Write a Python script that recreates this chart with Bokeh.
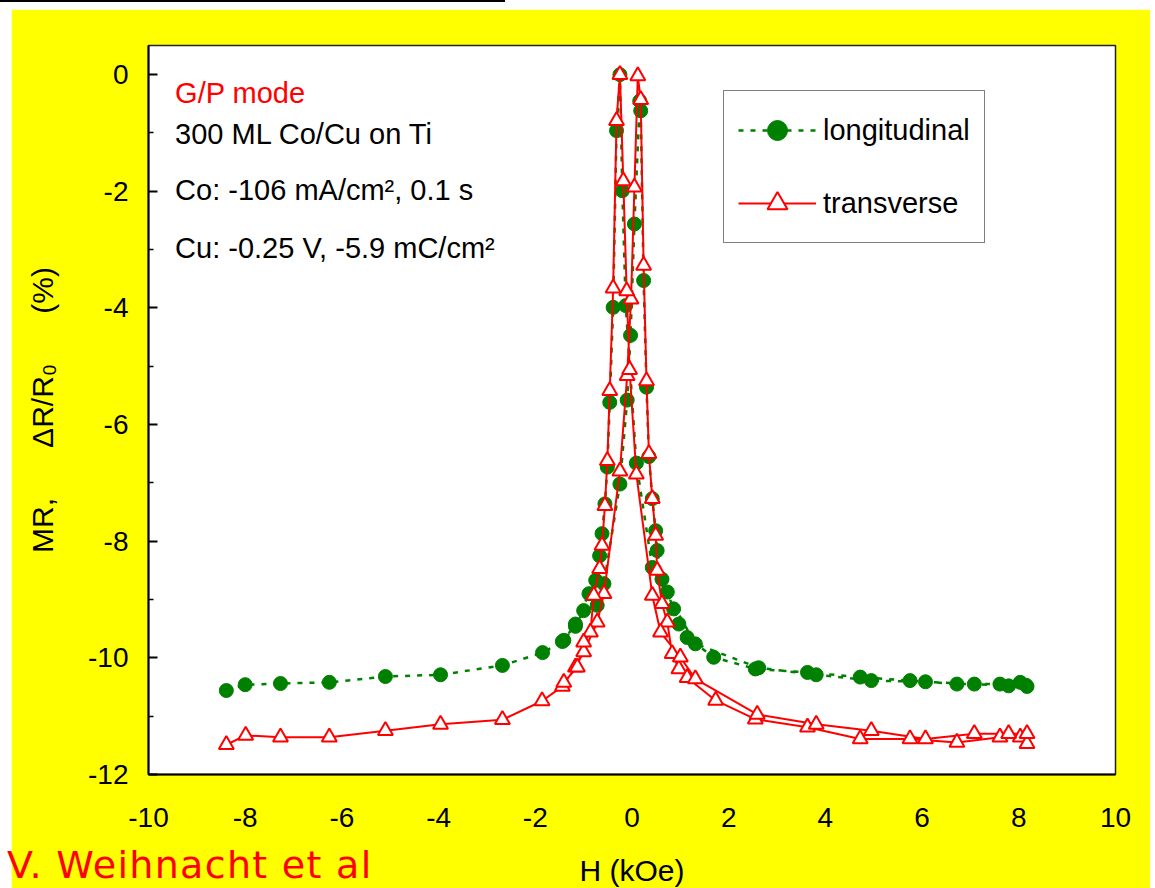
from bokeh.plotting import figure
from bokeh.models import Label, Legend, LegendItem, FixedTicker, Div
from bokeh.layouts import column
from bokeh.embed import file_html
from bokeh.resources import INLINE
from bokeh.core.properties import value

# ---------------- data ----------------
# longitudinal: sweep up (-8.4 -> +8.2) followed by sweep down (+8.2 -> -1.4)
long_h = [-8.39, -8.00, -7.27, -6.26, -5.10, -3.96, -2.68, -1.85, -1.44, -1.17, -1.00, -0.72, -0.58,
          -0.25, -0.10, -0.03, 0.05, 0.16, 0.18, 0.24, 0.30, 0.35, 0.42, 0.49, 0.52, 0.62, 0.73, 0.86,
          0.97, 1.14, 1.69, 2.55, 3.63, 4.72, 5.75, 6.72, 7.61, 8.03, 8.17,
          8.15, 7.79, 7.08, 6.07, 4.95, 3.81, 2.62, 1.31, 0.42, 0.09, -0.13, -0.20, -0.25, -0.32, -0.39,
          -0.46, -0.51, -0.56, -0.62, -0.67, -0.75, -0.89, -1.17, -1.41]
long_mr = [-10.56, -10.46, -10.44, -10.42, -10.32, -10.29, -10.13, -9.91, -9.72, -9.46, -9.19, -9.10, -8.73,
           -7.02, -5.58, -4.47, -2.56, -0.45, -0.62, -3.53, -5.36, -6.55, -7.27, -7.82, -8.16, -8.65, -8.87, -9.16,
           -9.42, -9.65, -9.99, -10.19, -10.25, -10.33, -10.39, -10.45, -10.45, -10.42, -10.49,
           -10.47, -10.48, -10.45, -10.41, -10.39, -10.29, -10.17, -9.76, -8.45, -6.66, -3.96, -1.99, 0.00, -0.96, -3.99,
           -5.62, -6.73, -7.36, -7.87, -8.25, -8.67, -8.90, -9.42, -9.70]

# transverse
trans_h = [-8.39, -7.99, -7.27, -6.26, -5.10, -3.96, -2.68, -1.86, -1.44, -1.17, -1.00, -0.72, -0.58,
           -0.25, -0.10, -0.02, 0.05, 0.12, 0.18, 0.24, 0.30, 0.35, 0.42, 0.49, 0.52, 0.62, 0.73, 0.83,
           0.97, 1.14, 1.73, 2.55, 3.63, 4.72, 5.75, 6.72, 7.61, 8.03, 8.17,
           8.17, 7.79, 7.08, 6.07, 4.95, 3.81, 2.59, 1.31, 1.00, 0.59, 0.42, 0.09, -0.05, -0.11, -0.18,
           -0.25, -0.32, -0.39, -0.46, -0.51, -0.56, -0.62, -0.67, -0.79, -0.86, -1.00, -1.13, -1.41]
trans_mr = [-11.49, -11.33, -11.36, -11.36, -11.25, -11.14, -11.06, -10.74, -10.49, -10.16, -9.90, -9.39, -8.90,
            -6.80, -5.16, -3.85, -1.93, -0.02, -0.43, -3.27, -5.25, -6.50, -7.27, -7.90, -8.50, -9.07, -9.39, -9.93,
            -10.19, -10.34, -10.73, -11.05, -11.19, -11.39, -11.39, -11.45, -11.36, -11.36, -11.47,
            -11.30, -11.30, -11.30, -11.39, -11.25, -11.14, -10.97, -10.36, -9.99, -9.56, -8.93, -6.85, -5.06, -3.71, -1.82,
            0.00, -0.79, -3.66, -5.42, -6.62, -7.39, -8.07, -8.47, -8.93, -9.56, -9.73, -10.16, -10.42]

x_ticks = [-10, -8, -6, -4, -2, 0, 2, 4, 6, 8, 10]
x_tick_labels = ["-10", "-8", "-6", "-4", "-2", "0", "2", "4", "6", "8", "10"]
y_ticks = [-12, -10, -8, -6, -4, -2, 0]
y_tick_labels = ["-12", "-10", "-8", "-6", "-4", "-2", "0"]
y_minor_ticks = [-11, -9, -7, -5, -3, -1]

series_names = ["longitudinal", "transverse"]
info_lines = ["G/P mode", "300 ML Co/Cu on Ti", "Co: -106 mA/cm\u00b2, 0.1 s", "Cu: -0.25 V, -5.9 mC/cm\u00b2"]
credit = "V. Weihnacht et al"

FONT = "Liberation Sans"
GREEN = "#008000"
RED = "#FF0000"

p = figure(frame_width=967, frame_height=729, x_range=(-10, 10), y_range=(-12, 0.5),
           output_backend="svg", toolbar_location=None,
           min_border_left=137, min_border_top=36, min_border_right=35, min_border_bottom=114,
           margin=(0, 5, 0, 11))
p.border_fill_color = "#FFFF00"
p.background_fill_color = "white"
p.outline_line_color = "#222222"
p.outline_line_width = 1.5
p.xgrid.visible = False
p.ygrid.visible = False

# axes
p.xaxis.ticker = FixedTicker(ticks=x_ticks)
p.xaxis.major_label_overrides = {t: l for t, l in zip(x_ticks, x_tick_labels)}
p.xaxis.major_tick_in = 0
p.xaxis.major_tick_out = 0
p.xaxis.minor_tick_in = 0
p.xaxis.minor_tick_out = 0
p.xaxis.major_label_standoff = 33
p.xaxis.axis_label = "H (kOe)"
p.xaxis.axis_label_standoff = 24

p.yaxis.ticker = FixedTicker(ticks=y_ticks, minor_ticks=y_minor_ticks)
p.yaxis.major_label_overrides = {t: l for t, l in zip(y_ticks, y_tick_labels)}
p.yaxis.major_tick_in = 9
p.yaxis.major_tick_out = 0
p.yaxis.minor_tick_in = 5
p.yaxis.minor_tick_out = 0
p.yaxis.major_label_standoff = 20
sp = "\u00a0" * 6
p.yaxis.axis_label = "MR," + sp + "\u0394R/R\u2080" + sp + "(%)"
p.yaxis.axis_label_standoff = 26

for ax in (p.xaxis[0], p.yaxis[0]):
    ax.axis_line_color = "black"
    ax.axis_line_width = 2
    ax.major_tick_line_color = "black"
    ax.major_tick_line_width = 2
    ax.minor_tick_line_color = "black"
    ax.minor_tick_line_width = 1.5
    ax.major_label_text_font = FONT
    ax.major_label_text_font_size = "28px"
    ax.major_label_text_color = "black"
    ax.axis_label_text_font = FONT
    ax.axis_label_text_font_size = "30px"
    ax.axis_label_text_font_style = "normal"
    ax.axis_label_text_color = "black"

# series
gl = p.line(long_h, long_mr, line_color=GREEN, line_width=2.5, line_dash="5 7")
gs = p.scatter(long_h, long_mr, marker="circle", size=14, fill_color=GREEN, line_color=GREEN)
rl = p.line(trans_h, trans_mr, line_color=RED, line_width=2)
rs = p.scatter(trans_h, trans_mr, marker="triangle", size=15, fill_color="white",
               line_color=RED, line_width=2)

legend = Legend(items=[LegendItem(label=series_names[0], renderers=[gl, gs]),
                       LegendItem(label=series_names[1], renderers=[rl, rs])],
                location=(575, 531), padding=14, spacing=23, glyph_width=78, glyph_height=50,
                label_height=50, label_standoff=7, margin=0,
                label_text_font=FONT, label_text_font_size="29px", label_text_color="black",
                border_line_color="black", border_line_width=1.5,
                background_fill_color="white", background_fill_alpha=1.0)
p.add_layout(legend, "center")

# text annotations
info_colors = [RED, "black", "black", "black"]
info_y = [-0.323, -1.009, -1.986, -2.98]
for txt, col, yy in zip(info_lines, info_colors, info_y):
    p.add_layout(Label(x=-9.45, y=yy, text=txt, text_color=col, text_font=FONT,
                       text_font_size="29px", text_baseline="alphabetic", text_align="left"))

top_line = Div(text="", width=505, height=9, margin=0,
               styles={"border-top": "2px solid #000", "box-sizing": "border-box"})

# credit line overlapping the bottom-left corner of the chart
credit_div = Div(text=credit, width=420, height=44, margin=(-46, 0, 0, 7),
                 styles={"color": RED, "font-family": "DejaVu Sans", "font-size": "38px",
                         "line-height": "44px", "white-space": "nowrap", "letter-spacing": "1.3px",
                         "position": "relative", "z-index": "10", "overflow": "visible"})

layout = column(top_line, p, credit_div, spacing=0)

open("out.html", "w").write(file_html(layout, INLINE))
